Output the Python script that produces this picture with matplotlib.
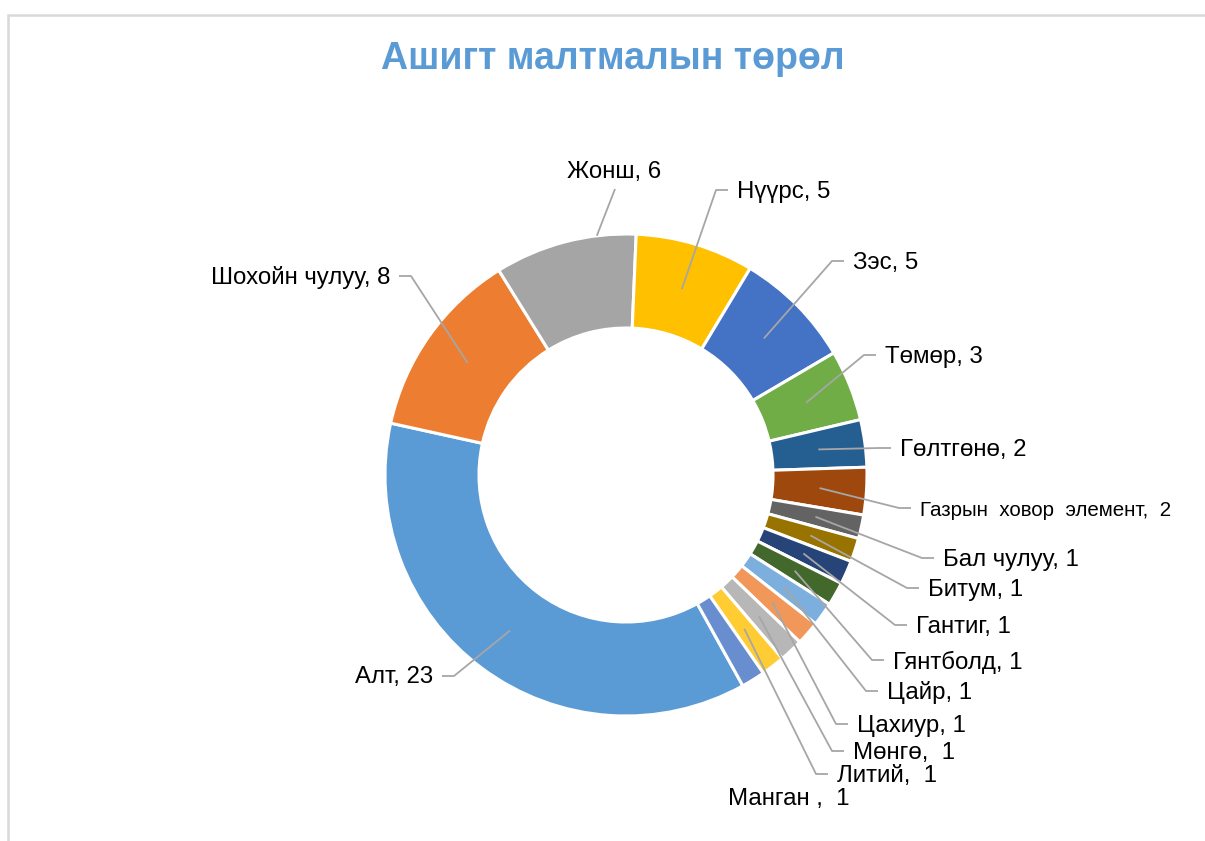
import numpy as np
import matplotlib
matplotlib.use('Agg')
import matplotlib.pyplot as plt
from matplotlib.patches import Rectangle

# data, in the order the chart was built (Excel colour order)
names = ['Алт', 'Шохойн чулуу', 'Жонш', 'Нүүрс', 'Зэс', 'Төмөр', 'Гөлтгөнө',
         'Газрын ховор элемент', 'Бал чулуу', 'Битум', 'Гантиг', 'Гянтболд',
         'Цайр', 'Цахиур', 'Мөнгө', 'Литий', 'Манган']
counts = [23, 8, 6, 5, 5, 3, 2, 2, 1, 1, 1, 1, 1, 1, 1, 1, 1]
label_texts = ['Алт, 23', 'Шохойн чулуу, 8', 'Жонш, 6', 'Нүүрс, 5', 'Зэс, 5',
               'Төмөр, 3', 'Гөлтгөнө, 2', 'Газрын  ховор  элемент,  2',
               'Бал чулуу, 1', 'Битум, 1', 'Гантиг, 1', 'Гянтболд, 1',
               'Цайр, 1', 'Цахиур, 1', 'Мөнгө,  1', 'Литий,  1', 'Манган ,  1']
colors = ['#5B9BD5', '#ED7D31', '#A5A5A5', '#FFC000', '#4472C4', '#70AD47',
          '#255E91', '#9E480E', '#636363', '#997300', '#264478', '#43682B',
          '#7CAFDD', '#F1975A', '#B7B7B7', '#FFCD33', '#698ED0']

# label placement (pixels from top-left), alignment, leader on/off
label_pos = [(433, 677, 'right'), (390, 277, 'right'), (614, 172, 'center'),
             (737, 192, 'left'), (853, 263, 'left'), (885, 357, 'left'),
             (900, 450, 'left'), (920, 510, 'left'), (943, 560, 'left'),
             (928, 590, 'left'), (916, 627, 'left'), (893, 662, 'left'),
             (887, 693, 'left'), (857, 726, 'left'), (853, 753, 'left'),
             (837, 776, 'left'), (728, 799, 'left')]
has_leader = [True] * 16 + [False]
label_size = [17.3] * 7 + [14.8] + [17.3] * 9

W, H = 1205, 841
cx, cy = 626, 475
r_out, r_in = 241, 147

fig = plt.figure(figsize=(W / 100, H / 100), dpi=100)
ax = fig.add_axes([0, 0, 1, 1])
ax.set_xlim(0, W)
ax.set_ylim(0, H)
ax.axis('off')

# chart area border (only top and left visible)
ax.add_patch(Rectangle((8, -20), W + 40, H - 15 + 20, fill=False,
                       edgecolor='#D9D9D9', linewidth=1.8))

wedges, _ = ax.pie(counts, colors=colors, startangle=-61, counterclock=False,
                   radius=r_out, center=(cx, H - cy),
                   wedgeprops=dict(width=r_out - r_in, edgecolor='white', linewidth=2.2))
ax.set_xlim(0, W)
ax.set_ylim(0, H)
ax.set_aspect('equal')

lfont = ['Liberation Sans', 'DejaVu Sans']
r_mid = (r_out + r_in) / 2
for w, txt, (lx, ly, ha), lead, fs in zip(wedges, label_texts, label_pos,
                                          has_leader, label_size):
    ang = np.deg2rad((w.theta1 + w.theta2) / 2)
    axp = cx + r_mid * np.cos(ang)
    ayp = cy - r_mid * np.sin(ang)
    ax.text(lx, H - ly, txt, ha=ha, va='center', fontsize=fs, family=lfont, color='black')
    if not lead:
        continue
    if ha == 'left':
        xs = [lx - 9, lx - 21, axp]
        ys = [ly - 2, ly - 2, ayp]
    elif ha == 'right':
        xs = [lx + 9, lx + 21, axp]
        ys = [ly - 1, ly - 1, ayp]
    else:
        # line from below the label towards the wedge, stopped at outer edge
        sx, sy = lx + 1, ly + 17
        dx, dy = axp - sx, ayp - sy
        a = dx * dx + dy * dy
        b = 2 * (dx * (sx - cx) + dy * (sy - cy))
        c = (sx - cx) ** 2 + (sy - cy) ** 2 - r_out ** 2
        t = (-b - np.sqrt(b * b - 4 * a * c)) / (2 * a)
        xs = [sx, sx + t * dx]
        ys = [sy, sy + t * dy]
    ax.plot(xs, [H - y for y in ys], color='#A6A6A6', linewidth=1.3,
            solid_capstyle='butt', zorder=3)

ax.text(613, H - 59, 'Ашигт малтмалын төрөл', ha='center', va='center',
        fontsize=27, fontweight='bold', color='#5B9BD5',
        family=['Liberation Sans Narrow', 'Liberation Sans', 'DejaVu Sans'])

fig.savefig('out.png', dpi=100, facecolor='white')
